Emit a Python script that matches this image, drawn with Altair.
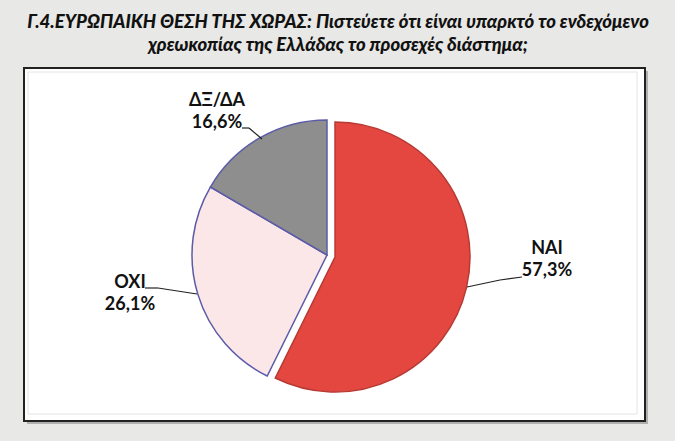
import math
import altair as alt
import pandas as pd

# ---- data ----
categories = ["NAI", "OXI", "ΔΞ/ΔΑ"]
values = [57.3, 26.1, 16.6]
title_lines = [
    "Γ.4.ΕΥΡΩΠΑΙΚΗ ΘΕΣΗ ΤΗΣ ΧΩΡΑΣ: Πιστεύετε ότι είναι υπαρκτό το ενδεχόμενο",
    "χρεωκοπίας της Ελλάδας το προσεχές διάστημα;",
]

# ---- table ----
ends = pd.Series(values).cumsum()
df = pd.DataFrame({
    "cat": categories,
    "value": values,
    "start": (ends - pd.Series(values)).tolist(),
    "end": ends.tolist(),
})
df["label"] = df["cat"] + "\n" + df["value"].map(lambda v: f"{v:.1f}".replace(".", ",") + "%")

W, H = 675, 441
FONT = "Lato"
CX, CY, R = 327, 255, 135
EX, EY = 335, 257  # exploded slice centre

theta_scale = alt.Scale(domain=[0, 100], range=[0, 2 * math.pi])
fills = {"NAI": "#e4473f", "OXI": "#fbe6e8", "ΔΞ/ΔΑ": "#8e8e8e"}
strokes = {"NAI": "#b83a34", "OXI": "#5b5ba8", "ΔΞ/ΔΑ": "#5b5ba8"}

base = alt.Chart(df)

# frame
shadow = base.mark_rect(fill="#8a8a8a", opacity=0.6).encode(
    x=alt.value(27), x2=alt.value(648), y=alt.value(71), y2=alt.value(424)
).transform_filter("datum.cat == 'NAI'")
frame = base.mark_rect(fill="white", stroke="#222222", strokeWidth=2).encode(
    x=alt.value(24), x2=alt.value(645), y=alt.value(68), y2=alt.value(421)
).transform_filter("datum.cat == 'NAI'")
inner = base.mark_rect(fill=None, stroke="#e4e4e4", strokeWidth=1).encode(
    x=alt.value(28), x2=alt.value(637), y=alt.value(72), y2=alt.value(414)
).transform_filter("datum.cat == 'NAI'")

def slice_layer(cat, cx, cy):
    return base.transform_filter(alt.datum.cat == cat).mark_arc(
        outerRadius=R, fill=fills[cat], stroke=strokes[cat], strokeWidth=1.5
    ).encode(
        theta=alt.Theta("start:Q", scale=theta_scale),
        theta2="end:Q",
        x=alt.value(cx), y=alt.value(cy),
    )

slices = [
    slice_layer("OXI", CX, CY),
    slice_layer("ΔΞ/ΔΑ", CX, CY),
    slice_layer("NAI", EX, EY),
]

# labels
label_pos = {"NAI": (547, 249), "OXI": (130, 283), "ΔΞ/ΔΑ": (217, 101)}
labels = []
for cat, (lx, ly) in label_pos.items():
    labels.append(
        base.transform_filter(alt.datum.cat == cat).mark_text(
            font=FONT, fontWeight="bold", fontSize=18, color="#111111",
            lineBreak="\n", lineHeight=22, align="center", baseline="middle",
        ).encode(text="label:N", x=alt.value(lx), y=alt.value(ly))
    )

# leader lines (two segments each)
segs = [
    (522, 277, 500, 280), (500, 280, 467, 287),
    (145, 288, 158, 288), (158, 288, 197, 294),
    (242, 128, 249, 128), (249, 128, 262, 139),
]
leaders = [
    base.transform_filter("datum.cat == 'NAI'").mark_rule(color="#222222", strokeWidth=1.2).encode(
        x=alt.value(a), y=alt.value(b), x2=alt.value(c), y2=alt.value(d)
    )
    for a, b, c, d in segs
]

# title
titles = []
for i, (line, ty) in enumerate(zip(title_lines, [22, 45])):
    titles.append(
        alt.Chart(pd.DataFrame({"t": [line]})).mark_text(
            font=FONT, fontWeight=900, fontStyle="italic", fontSize=18.5,
            color="#111111", align="center", baseline="middle",
        ).encode(text="t:N", x=alt.value(338), y=alt.value(ty))
    )

chart = alt.layer(shadow, frame, inner, *slices, *leaders, *labels, *titles).properties(
    width=W, height=H, padding=0, autosize=alt.AutoSizeParams(type="none"),
    background="#e8e8e6",
).configure_view(stroke=None)

chart.save("out.html", embed_options={"renderer": "svg", "actions": False})
